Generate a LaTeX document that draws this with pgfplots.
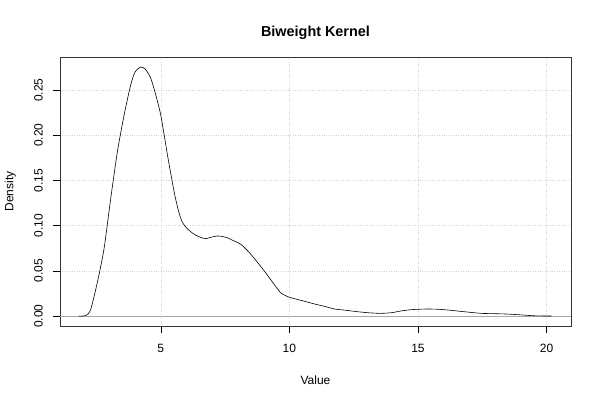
\documentclass[border=0pt]{standalone}
\usepackage{pgfplots}
\pgfplotsset{compat=1.18}
\usepackage{fontspec}
\setmainfont{Liberation Sans}
\begin{document}
\begin{tikzpicture}[x=1pt,y=1pt]
\path[use as bounding box] (0,0) rectangle (600,400);
\begin{axis}[
  at={(60pt,74pt)}, anchor=south west,
  scale only axis, width=511pt, height=269pt,
  xmin=1.08, xmax=20.95, ymin=-0.011, ymax=0.2865,
  xtick={5,10,15,20}, ytick={0,0.05,0.10,0.15,0.20,0.25},
  tick align=outside, major tick length=7pt,
  tick style={black, line width=0.5pt},
  xtick pos=bottom, ytick pos=left,
  axis line style={black!80, line width=0.6pt},
  grid=major,
  major grid style={gray!35, dotted, line width=0.5pt},
  /pgf/number format/assume math mode=true,
  yticklabel={\pgfmathprintnumber[fixed, fixed zerofill, precision=2]{\tick}},
  ticklabel style={font=\fontsize{12}{14}\selectfont, inner sep=0pt},
  xticklabel style={anchor=north, yshift=-11pt},
  yticklabel style={rotate=90, anchor=south, yshift=10pt},
  clip=true,
]
\addplot[gray!70, line width=0.4pt, forget plot] coordinates {(0,0) (22,0)};
\addplot[black, line width=0.6pt, smooth, tension=0.4] coordinates {
(1.79,0) (2.08,0.0005) (2.27,0.007) (2.53,0.037) (2.79,0.074) (3.05,0.1295)
(3.31,0.1815) (3.57,0.222) (3.83,0.2557) (4.0,0.270) (4.22,0.2754) (4.40,0.273)
(4.61,0.263) (4.80,0.245) (5.0,0.222) (5.26,0.178) (5.52,0.137) (5.70,0.115)
(5.84,0.1036) (6.05,0.096) (6.30,0.0905) (6.55,0.087) (6.75,0.0857) (7.0,0.0875)
(7.21,0.0886) (7.40,0.0880) (7.6,0.0864) (7.85,0.083) (8.11,0.0794) (8.45,0.070)
(8.77,0.059) (9.1,0.047) (9.41,0.0349) (9.68,0.0253) (10.0,0.0208) (10.45,0.0174)
(10.97,0.0134) (11.4,0.0105) (11.75,0.0078) (12.2,0.0064) (12.65,0.0048)
(13.1,0.0036) (13.56,0.003) (14.0,0.0038) (14.33,0.0056) (14.8,0.0072)
(15.37,0.0078) (15.8,0.0075) (16.15,0.0067) (16.8,0.0048) (17.45,0.003)
(18.0,0.0026) (18.48,0.0022) (19.0,0.0013) (19.52,0.0003) (20.2,0)
};
\end{axis}
\node[anchor=base, font=\fontsize{14.4}{16}\selectfont\bfseries, inner sep=0pt] at (315.5,363.3) {Biweight Kernel};
\node[anchor=base, font=\fontsize{12}{14}\selectfont, inner sep=0pt] at (315.5,16) {Value};
\node[anchor=base, rotate=90, font=\fontsize{12}{14}\selectfont, inner sep=0pt] at (13.3,208.5) {Density};
\end{tikzpicture}
\end{document}
